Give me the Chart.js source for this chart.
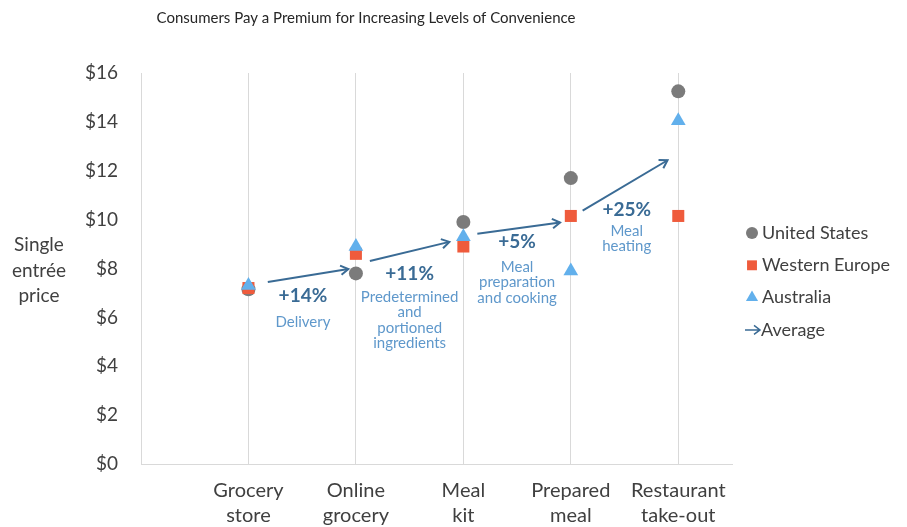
<!DOCTYPE html>
<html>
<head>
<meta charset="utf-8">
<script src="https://cdn.jsdelivr.net/npm/chart.js@4.4.1/dist/chart.umd.min.js"></script>
<style>
  html, body { margin: 0; padding: 0; background: #fff; }
  #wrap { width: 907px; height: 527px; }
</style>
</head>
<body>
<div id="wrap"><canvas id="grafico" width="907" height="527"></canvas></div>
<script>
// dados
const categorias = [["Grocery", "store"], ["Online", "grocery"], ["Meal", "kit"], ["Prepared", "meal"], ["Restaurant", "take-out"]];
const posicoes = [1, 2, 3, 4, 5];
const estadosUnidos = [7.15, 7.8, 9.9, 11.7, 15.25];
const europaOcidental = [7.2, 8.6, 8.9, 10.15, 10.15];
const australia = [7.3, 8.9, 9.3, 7.9, 14.05];
// setas da média: início e fim (x, y)
const setaInicio = [[1.18, 7.45], [2.13, 8.31], [3.13, 9.42], [4.11, 10.37]];
const setaFim = [[1.93, 7.98], [2.87, 9.09], [3.9, 9.88], [4.9, 12.43]];
const variacoes = ["+14%", "+11%", "+5%", "+25%"];
const etapas = [["Delivery"], ["Predetermined", "and", "portioned", "ingredients"], ["Meal", "preparation", "and cooking"], ["Meal", "heating"]];
const yTicks = [0, 2, 4, 6, 8, 10, 12, 14, 16];

const FONTE = "Lato, 'Open Sans', sans-serif";
const CINZA_TXT = "#404040";
const COR_SETA = "#3a6b95";
const COR_ETAPA = "#5f98cb";
const CORES = { us: "#7b7b7b", we: "#ef5b3c", au: "#62b0ec" };

// posição dos rótulos das anotações (em unidades dos eixos)
const anotacoes = [
  { x: 1.507, y: 6.87, dy: 26, lh: 15.5 },
  { x: 2.5, y: 7.78, dy: 23, lh: 15.5 },
  { x: 3.5, y: 9.09, dy: 25, lh: 15.5 },
  { x: 4.52, y: 10.41, dy: 22, lh: 15 }
];

const pontos = arr => arr.map((v, i) => ({ x: posicoes[i], y: v }));

const setas = setaInicio.map((p, i) => ({
  type: "line",
  data: [{ x: p[0], y: p[1] }, { x: setaFim[i][0], y: setaFim[i][1] }],
  borderColor: COR_SETA,
  borderWidth: 2,
  pointRadius: 0,
  showLine: true,
  order: 0,
  seta: true
}));

const extras = {
  id: "extras",
  afterDatasetsDraw(chart) {
    const ctx = chart.ctx;
    const sx = chart.scales.x, sy = chart.scales.y;
    ctx.save();
    // pontas das setas
    chart.data.datasets.forEach((ds, di) => {
      if (!ds.seta) return;
      const pts = chart.getDatasetMeta(di).data;
      const a = pts[0], b = pts[pts.length - 1];
      const ang = Math.atan2(b.y - a.y, b.x - a.x);
      ctx.strokeStyle = COR_SETA;
      ctx.lineWidth = 2;
      ctx.beginPath();
      ctx.moveTo(b.x - 9 * Math.cos(ang - 0.55), b.y - 9 * Math.sin(ang - 0.55));
      ctx.lineTo(b.x, b.y);
      ctx.lineTo(b.x - 9 * Math.cos(ang + 0.55), b.y - 9 * Math.sin(ang + 0.55));
      ctx.stroke();
    });
    // textos das etapas
    ctx.textAlign = "center";
    ctx.textBaseline = "middle";
    anotacoes.forEach((an, i) => {
      const px = sx.getPixelForValue(an.x);
      const py = sy.getPixelForValue(an.y);
      ctx.fillStyle = COR_SETA;
      ctx.font = "bold 19px " + FONTE;
      ctx.fillText(variacoes[i], px, py);
      ctx.fillStyle = COR_ETAPA;
      ctx.font = "15px " + FONTE;
      etapas[i].forEach((linha, k) => ctx.fillText(linha, px, py + an.dy + k * an.lh));
    });
    ctx.restore();
  },
  afterDraw(chart) {
    const ctx = chart.ctx;
    ctx.save();
    // título
    ctx.fillStyle = "#262626";
    ctx.font = "15px " + FONTE;
    ctx.textAlign = "center";
    ctx.textBaseline = "middle";
    ctx.fillText("Consumers Pay a Premium for Increasing Levels of Convenience", 366, 18);
    // título do eixo y
    ctx.fillStyle = CINZA_TXT;
    ctx.font = "19px " + FONTE;
    ["Single", "entrée", "price"].forEach((t, i) => ctx.fillText(t, 39, 245 + i * 25.5));
    // legenda
    const itens = [
      { nome: "United States", tipo: "circle", cor: CORES.us, r: 6 },
      { nome: "Western Europe", tipo: "rect", cor: CORES.we, r: 7 },
      { nome: "Australia", tipo: "triangle", cor: CORES.au, r: 7 },
      { nome: "Average", tipo: "seta", cor: COR_SETA }
    ];
    ctx.textAlign = "left";
    ctx.font = "18px " + FONTE;
    itens.forEach((it, i) => {
      const y = 233 + i * 32.3;
      if (it.tipo === "seta") {
        ctx.strokeStyle = it.cor;
        ctx.lineWidth = 1.5;
        ctx.beginPath();
        ctx.moveTo(745, y); ctx.lineTo(760, y);
        ctx.moveTo(754, y - 4.5); ctx.lineTo(760, y); ctx.lineTo(754, y + 4.5);
        ctx.stroke();
        ctx.fillStyle = CINZA_TXT;
        ctx.fillText(it.nome, 761, y);
      } else {
        ctx.fillStyle = it.cor;
        Chart.helpers.drawPoint(ctx, { pointStyle: it.tipo, radius: it.r, rotation: 0, borderWidth: 0 }, 752, y);
        ctx.fillStyle = CINZA_TXT;
        ctx.fillText(it.nome, 762, y);
      }
    });
    ctx.restore();
  }
};

new Chart(document.getElementById("grafico"), {
  type: "scatter",
  data: {
    datasets: [
      { label: "United States", data: pontos(estadosUnidos), pointStyle: "circle", pointRadius: 7, backgroundColor: CORES.us, borderWidth: 0, order: 3 },
      { label: "Western Europe", data: pontos(europaOcidental), pointStyle: "rect", pointRadius: 8.5, backgroundColor: CORES.we, borderWidth: 0, order: 2 },
      { label: "Australia", data: pontos(australia), pointStyle: "triangle", pointRadius: 8.5, backgroundColor: CORES.au, borderWidth: 0, order: 1 },
      ...setas
    ]
  },
  options: {
    responsive: false,
    animation: false,
    layout: { padding: { top: 73, right: 175, bottom: 0, left: 0 } },
    plugins: {
      legend: { display: false },
      tooltip: { enabled: false },
      title: { display: false }
    },
    scales: {
      x: {
        type: "linear",
        min: 0,
        max: 5.5,
        afterBuildTicks: s => { s.ticks = posicoes.map(v => ({ value: v })); },
        afterFit: s => { s.height = 63; },
        ticks: {
          callback: v => categorias[v - 1] || "",
          color: CINZA_TXT,
          font: { family: FONTE, size: 20, lineHeight: 1.25 },
          padding: 14,
          maxRotation: 0,
          autoSkip: false
        },
        grid: { color: "#d9d9d9", drawTicks: false, lineWidth: 1 },
        border: { color: "#d9d9d9" }
      },
      y: {
        min: 0,
        max: 16,
        afterBuildTicks: s => { s.ticks = yTicks.map(v => ({ value: v })); },
        afterFit: s => { s.width = 141; },
        ticks: {
          callback: v => "$" + v,
          color: CINZA_TXT,
          font: { family: FONTE, size: 19 },
          padding: 23
        },
        grid: { display: false, drawTicks: false },
        border: { color: "#d9d9d9" }
      }
    }
  },
  plugins: [extras]
});
</script>
</body>
</html>
